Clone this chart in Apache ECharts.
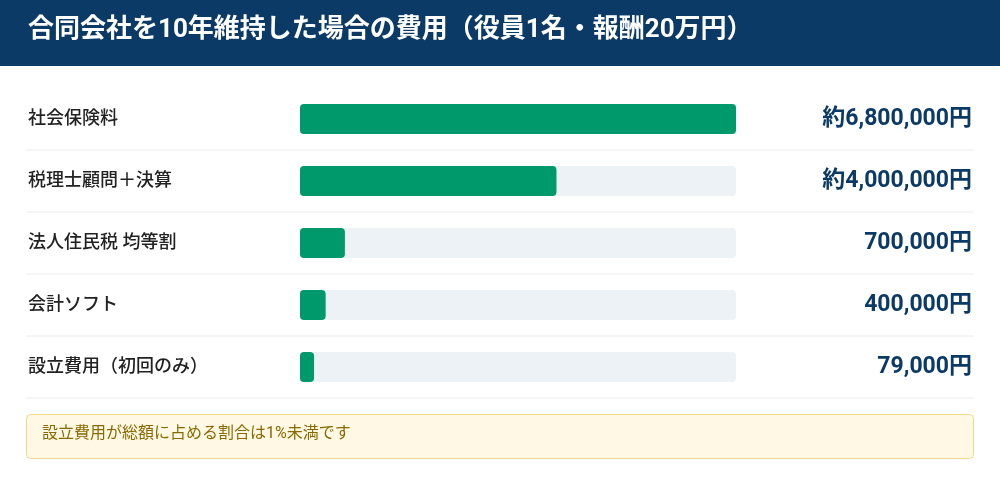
<!DOCTYPE html>
<html><head><meta charset="utf-8">
<script src="https://cdn.jsdelivr.net/npm/echarts@6/dist/echarts.min.js"></script>
<style>body{margin:0;background:#fff}#main{width:1000px;height:486px}</style>
</head><body><div id="main"></div>
<script>
const categories = ['社会保険料', '税理士顧問＋決算', '法人住民税 均等割', '会計ソフト', '設立費用（初回のみ）'];
const values = [6800000, 4000000, 700000, 400000, 79000];
const valueLabels = ['約6,800,000円', '約4,000,000円', '700,000円', '400,000円', '79,000円'];
const titleText = '合同会社を10年維持した場合の費用（役員1名・報酬20万円）';
const noteText = '設立費用が総額に占める割合は1%未満です';

const font = 'Roboto, "Noto Sans CJK JP", "Noto Sans", sans-serif';
const chart = echarts.init(document.getElementById('main'));

let seps = [];
for (let i = 1; i <= 5; i++) {
  seps.push({type: 'line', shape: {x1: 26, y1: 88 + 62 * i, x2: 974, y2: 88 + 62 * i},
    style: {stroke: '#e8ecf0', lineWidth: 1}});
}

chart.setOption({
  animation: false,
  grid: {left: 300, width: 436, top: 88, height: 310},
  xAxis: {type: 'value', max: 6800000, show: false},
  yAxis: [{
    type: 'category', data: categories, inverse: true,
    axisLine: {show: false}, axisTick: {show: false},
    axisLabel: {align: 'left', margin: 272, color: '#222', fontSize: 18, fontWeight: 500, fontFamily: font, padding: [0, 0, 12, 0]}
  }, {
    type: 'category', data: valueLabels, inverse: true, position: 'right',
    axisLine: {show: false}, axisTick: {show: false},
    axisLabel: {align: 'right', margin: 236, color: '#0b3a66', fontSize: 23, fontWeight: 'bold', fontFamily: font}
  }],
  series: [{
    type: 'bar', data: values, barWidth: 30, barMinHeight: 14,
    itemStyle: {color: '#00996b', borderRadius: 4},
    showBackground: true,
    backgroundStyle: {color: '#edf2f7', borderRadius: 4}
  }],
  graphic: [
    {type: 'rect', shape: {x: 0, y: 0, width: 1000, height: 66}, style: {fill: '#0b3a66'}},
    {type: 'text', left: 28, top: 17, style: {text: titleText, fill: '#fff', fontSize: 26, fontWeight: 'bold', fontFamily: font}},
    ...seps,
    {type: 'rect', shape: {x: 26.5, y: 414.5, width: 947, height: 44, r: 4}, style: {fill: '#fff8e4', stroke: '#f0d98a', lineWidth: 1}},
    {type: 'text', left: 42, top: 426, style: {text: noteText, fill: '#8a6a00', fontSize: 16, fontFamily: font}}
  ]
});
</script></body></html>
